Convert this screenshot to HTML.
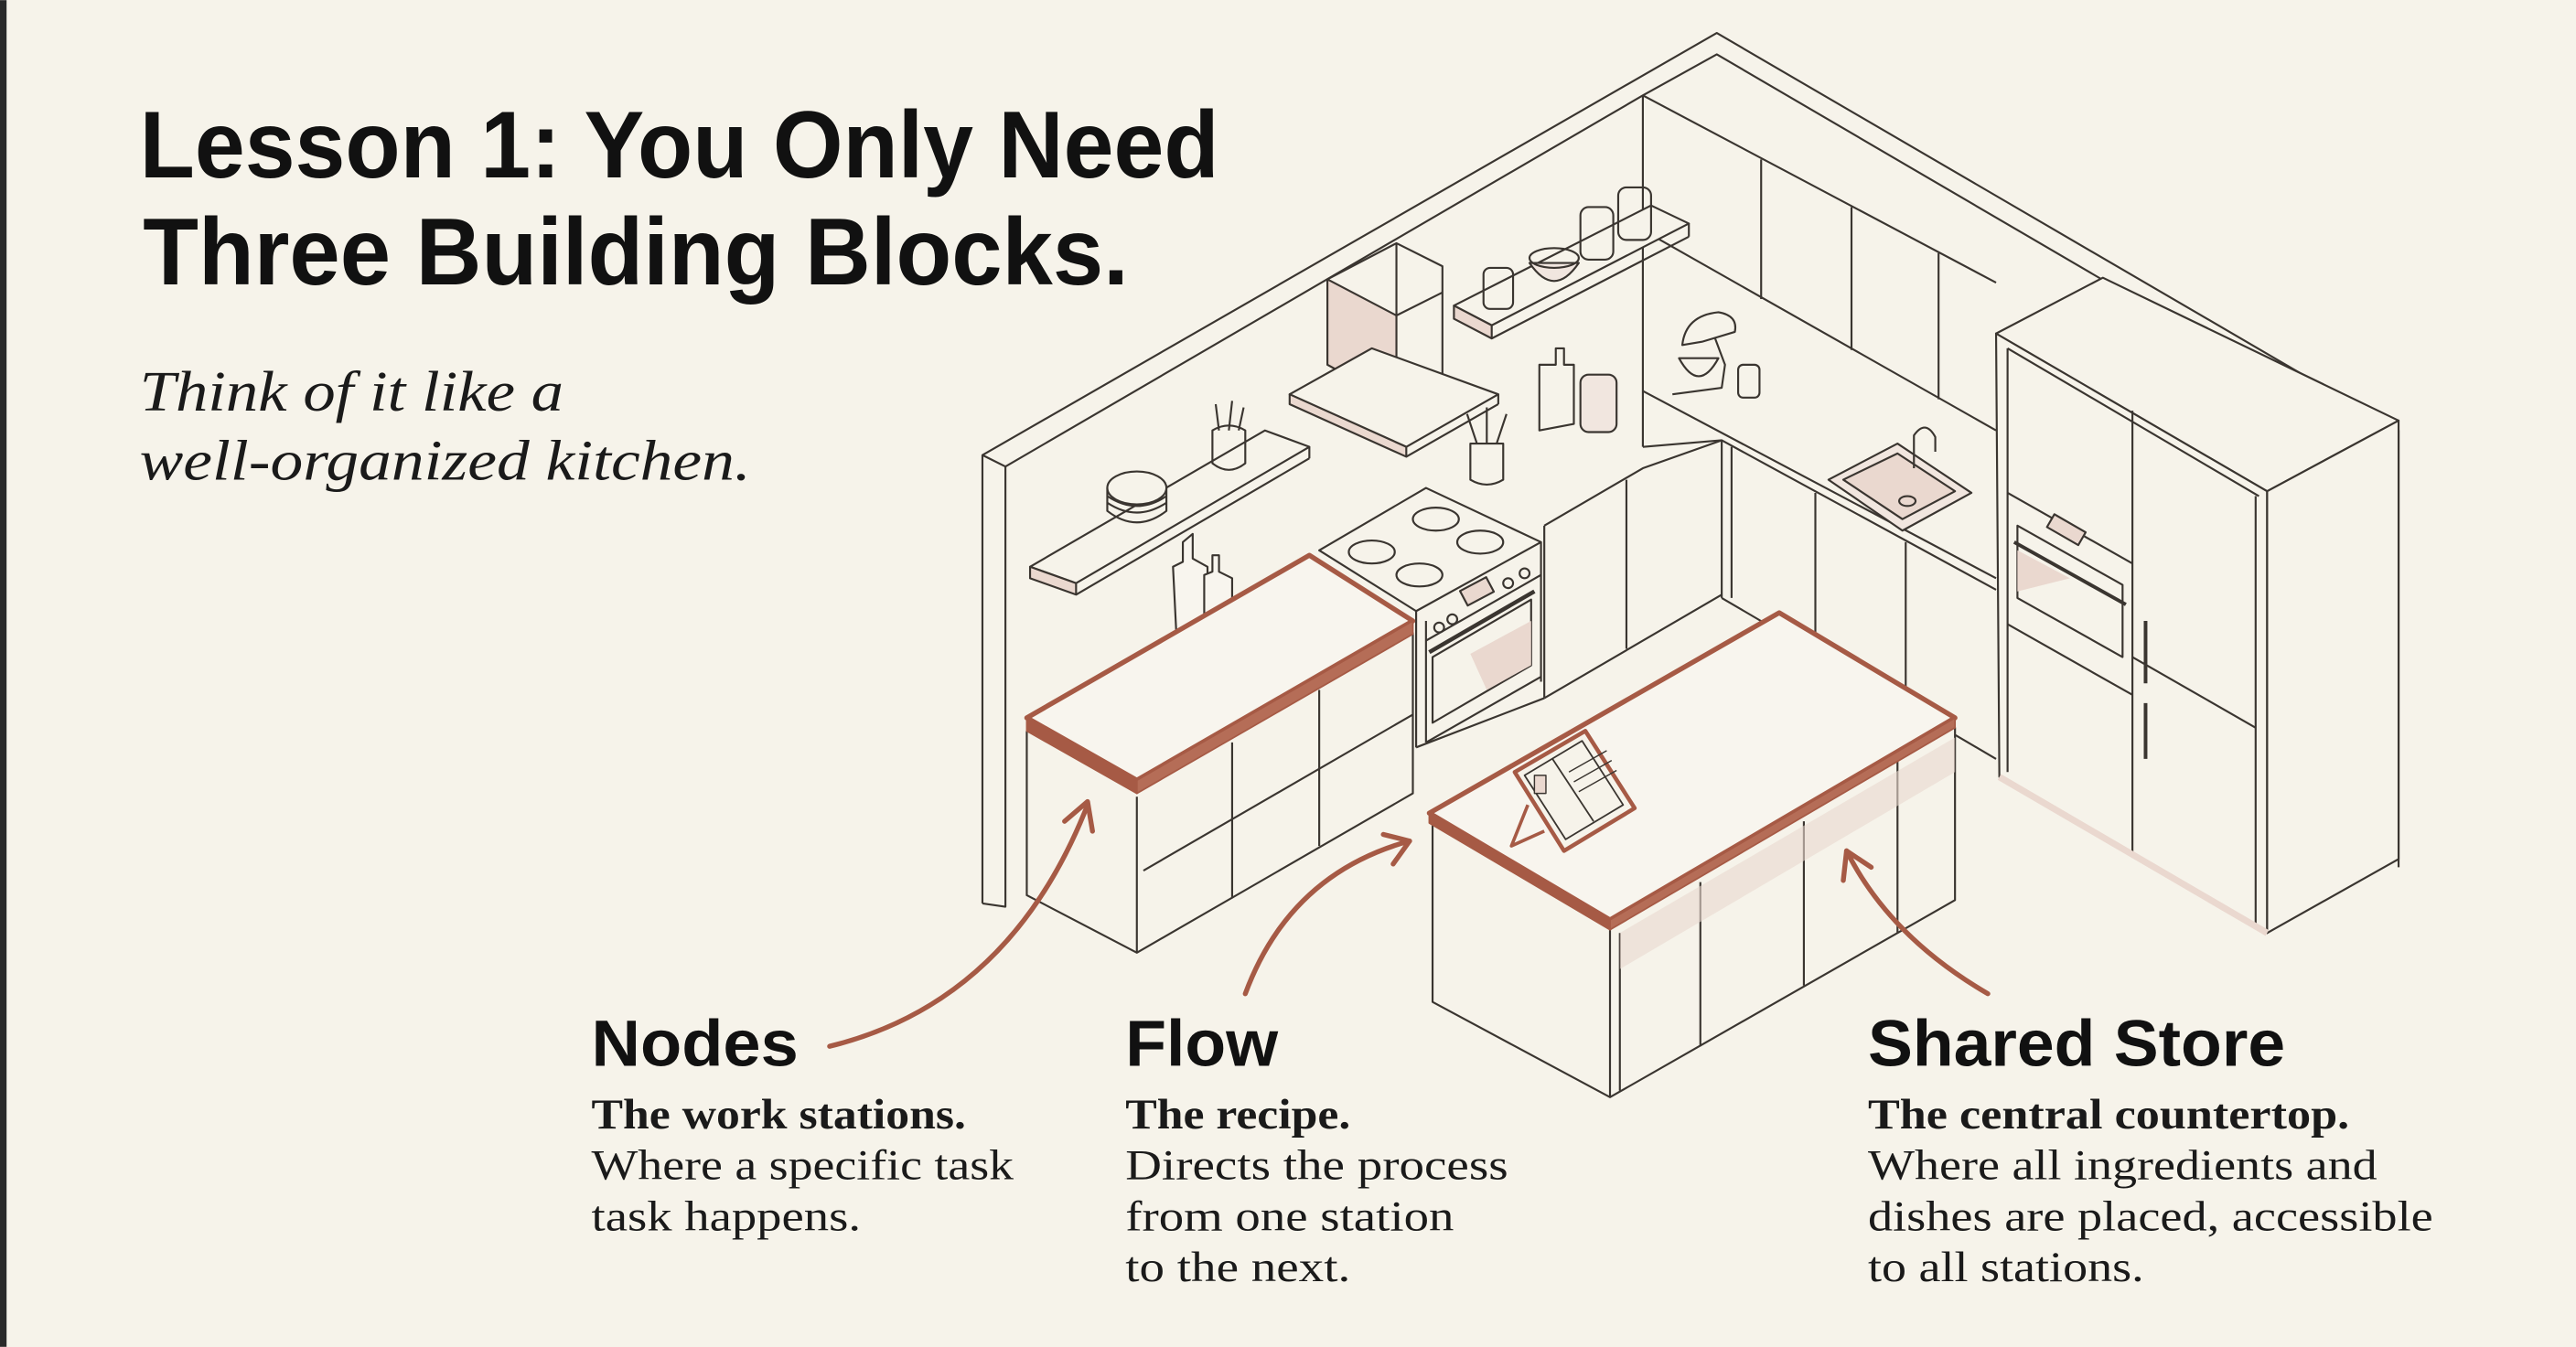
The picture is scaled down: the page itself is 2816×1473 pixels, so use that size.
<!DOCTYPE html>
<html><head><meta charset="utf-8"><style>
html,body{margin:0;padding:0;background:#f6f3ea;}
svg{display:block;}
</style></head><body>
<svg width="2816" height="1473" viewBox="0 0 1568 820" xmlns="http://www.w3.org/2000/svg">
<rect x="0" y="0" width="1568" height="820" fill="#f6f3ea"/>
<rect x="0" y="0" width="4" height="820" fill="#2a2a2a"/>

<!-- TEXT -->
<g font-family="Liberation Sans, sans-serif" font-weight="bold" fill="#111">
<text x="85" y="108" font-size="58" textLength="657" lengthAdjust="spacingAndGlyphs">Lesson 1: You Only Need</text>
<text x="87" y="173" font-size="58" textLength="600" lengthAdjust="spacingAndGlyphs">Three Building Blocks.</text>
<text x="360" y="649" font-size="40" textLength="126" lengthAdjust="spacingAndGlyphs">Nodes</text>
<text x="685" y="649" font-size="40" textLength="93" lengthAdjust="spacingAndGlyphs">Flow</text>
<text x="1137" y="649" font-size="40" textLength="254" lengthAdjust="spacingAndGlyphs">Shared Store</text>
</g>
<g font-family="Liberation Serif, serif" font-style="italic" fill="#1a1a1a" font-size="35">
<text x="85" y="250" textLength="258" lengthAdjust="spacingAndGlyphs">Think of it like a</text>
<text x="85" y="292" textLength="372" lengthAdjust="spacingAndGlyphs">well-organized kitchen.</text>
</g>
<g font-family="Liberation Serif, serif" fill="#1a1a1a" font-size="26">
<text x="360" y="687" font-weight="bold" textLength="228" lengthAdjust="spacingAndGlyphs">The work stations.</text>
<text x="360" y="718" textLength="257" lengthAdjust="spacingAndGlyphs">Where a specific task</text>
<text x="360" y="749" textLength="164" lengthAdjust="spacingAndGlyphs">task happens.</text>
<text x="685" y="687" font-weight="bold" textLength="137" lengthAdjust="spacingAndGlyphs">The recipe.</text>
<text x="685" y="718" textLength="233" lengthAdjust="spacingAndGlyphs">Directs the process</text>
<text x="685" y="749" textLength="200" lengthAdjust="spacingAndGlyphs">from one station</text>
<text x="685" y="780" textLength="137" lengthAdjust="spacingAndGlyphs">to the next.</text>
<text x="1137" y="687" font-weight="bold" textLength="293" lengthAdjust="spacingAndGlyphs">The central countertop.</text>
<text x="1137" y="718" textLength="310" lengthAdjust="spacingAndGlyphs">Where all ingredients and</text>
<text x="1137" y="749" textLength="344" lengthAdjust="spacingAndGlyphs">dishes are placed, accessible</text>
<text x="1137" y="780" textLength="168" lengthAdjust="spacingAndGlyphs">to all stations.</text>
</g>

<!-- KITCHEN -->
<g fill="none" stroke="#3a3530" stroke-width="1.2" stroke-linejoin="round">
<polyline points="598,550 598,277 1045,20 1460,262 1460,528"/>
<polyline points="598,277 612,284 612,552 598,550"/>
<polyline points="612,284 1000,58 1045,33 1447,268 1447,528"/>
<line x1="1000" y1="58" x2="1000" y2="272"/>
<line x1="1000" y1="58" x2="1215" y2="172"/>
<line x1="1000" y1="140" x2="1215" y2="262"/>
<line x1="1072" y1="97" x2="1072" y2="182"/>
<line x1="1127" y1="126" x2="1127" y2="213"/>
<line x1="1180" y1="154" x2="1180" y2="243"/>
<line x1="1000" y1="238" x2="1215" y2="352"/>
<polyline points="1000,272 1048,268 1215,359"/>
<line x1="1048" y1="268" x2="1048" y2="364"/>
<line x1="1054" y1="272" x2="1054" y2="364"/>
<polyline points="1048,364 1215,462"/>
<line x1="1105" y1="300" x2="1105" y2="397"/>
<line x1="1160" y1="330" x2="1160" y2="430"/>
<polygon points="1113,292 1155,270 1200,300 1158,323" fill="#f1e6df"/>
<polygon points="1122,292 1155,276 1190,299 1158,316" fill="#ead8cf"/>
<ellipse cx="1161" cy="305" rx="5" ry="3"/>
<path d="M1165,285 L1165,265 Q1172,255 1178,266 L1178,275"/>
<polyline points="940,320 1000,285 1048,268"/>
<line x1="940" y1="425" x2="1048" y2="362"/>
<line x1="990" y1="292" x2="990" y2="395"/>
<line x1="940" y1="320" x2="940" y2="425"/>
<polygon points="627,345 770,262 797,272 655,355" fill="#f6f3ea"/>
<polygon points="627,345 655,355 655,362 627,352" fill="#ead8cf"/>
<line x1="655" y1="362" x2="797" y2="279"/><line x1="797" y1="272" x2="797" y2="279"/>
<ellipse cx="692" cy="297" rx="18" ry="10" fill="#f6f3ea"/>
<path d="M674,297 L674,311 Q692,325 710,311 L710,297"/>
<path d="M674,302 Q692,314 710,302 M674,306 Q692,318 710,306"/>
<path d="M738,262 L738,282 Q748,290 758,282 L758,262 Q748,256 738,262 Z"/>
<path d="M742,262 L740,246 M748,262 L750,244 M754,262 L757,248"/>
<polygon points="808,170 850,148 878,162 878,232 850,245 808,222" fill="#f6f3ea"/>
<polygon points="808,170 850,192 850,245 808,222" fill="#ead8cf"/>
<line x1="850" y1="192" x2="878" y2="178"/><line x1="850" y1="148" x2="850" y2="192"/>
<polygon points="785,240 835,212 912,240 856,272" fill="#f6f3ea"/>
<polygon points="785,240 856,272 856,278 785,246" fill="#ead8cf"/>
<line x1="856" y1="278" x2="912" y2="246"/><line x1="912" y1="240" x2="912" y2="246"/>
<polygon points="885,186 1005,125 1028,136 908,198" fill="#f6f3ea"/>
<polygon points="885,186 908,198 908,206 885,194" fill="#ead8cf"/>
<line x1="908" y1="206" x2="1028" y2="144"/><line x1="1028" y1="136" x2="1028" y2="144"/>
<rect x="903" y="163" width="18" height="25" rx="4"/>
<path d="M931,160 Q946,182 961,160 Z" fill="#f1e6df"/><ellipse cx="946" cy="157" rx="15" ry="6"/>
<rect x="962" y="126" width="20" height="32" rx="5"/>
<rect x="985" y="114" width="20" height="32" rx="5"/>
<path d="M1024,210 Q1026,192 1046,190 Q1058,192 1056,202 L1036,208 Z"/>
<path d="M1022,218 Q1034,240 1046,218 Z"/>
<path d="M1018,240 L1048,236 L1050,222 L1044,206"/>
<rect x="1058" y="222" width="13" height="20" rx="3"/>
<path d="M937,262 L937,222 L947,222 L947,212 L952,212 L952,222 L958,222 L958,258 Z"/>
<rect x="962" y="228" width="22" height="35" rx="5" fill="#f1e6df"/>
<path d="M895,270 L895,292 Q905,298 915,292 L915,270 Z"/>
<path d="M899,270 L893,252 M905,270 L905,248 M911,270 L917,252"/>
<polygon points="803,335 868,297 938,330 862,372" fill="#f6f3ea"/>
<ellipse cx="835" cy="336" rx="14" ry="7"/><ellipse cx="874" cy="316" rx="14" ry="7"/>
<ellipse cx="864" cy="350" rx="14" ry="7"/><ellipse cx="901" cy="330" rx="14" ry="7"/>
<line x1="862" y1="372" x2="862" y2="455"/><line x1="938" y1="330" x2="938" y2="415"/>
<line x1="868" y1="378" x2="868" y2="452"/>
<line x1="868" y1="390" x2="938" y2="350"/>
<line x1="868" y1="452" x2="938" y2="412"/>
<polygon points="872,400 932,365 932,405 872,440" />
<polygon points="895,398 932,378 932,405 905,420" fill="#ead8cf" stroke="none"/>
<line x1="870" y1="397" x2="934" y2="360" stroke-width="2.5"/>
<rect x="890" y="355" width="18" height="10" fill="#ead8cf" transform="rotate(-28 899 360)"/>
<circle cx="876" cy="382" r="3"/><circle cx="884" cy="377" r="3"/><circle cx="918" cy="355" r="3"/><circle cx="928" cy="349" r="3"/>
<line x1="862" y1="455" x2="940" y2="425"/>
<polyline points="625,445 625,545 692,580 860,483 860,385"/>
<line x1="692" y1="485" x2="692" y2="580"/>
<line x1="750" y1="452" x2="750" y2="547"/>
<line x1="803" y1="420" x2="803" y2="515"/>
<line x1="696" y1="530" x2="860" y2="435"/>
<polygon points="663,432 722,398 758,418 700,452" fill="#f8f5ee"/>
<line x1="700" y1="452" x2="700" y2="456"/><line x1="663" y1="432" x2="663" y2="436"/><polyline points="663,436 700,456 758,422 758,418"/>
<path d="M692,425 L722,414 L748,417 L746,421 L720,420 Z"/>
<ellipse cx="690" cy="436" rx="6" ry="4"/><ellipse cx="698" cy="437" rx="6" ry="4"/>
<path d="M742,388 L768,408 L780,414 L777,417 L765,410 Z"/>
<path d="M716,385 L714,345 L720,342 L720,330 L726,325 L726,340 L735,345 L735,378 Z" fill="#f8f5ee"/>
<path d="M733,380 L733,350 L738,348 L738,338 L742,338 L742,348 L750,352 L750,372 Z" fill="#f8f5ee"/>
<circle cx="774" cy="372" r="8"/><path d="M774,364 L774,359"/>
<circle cx="765" cy="384" r="5" fill="#ead8cf"/>
<path d="M766,388 Q784,372 806,378 Q790,382 778,392 Z"/>
<polygon points="872,502 872,610 980,668 1190,548 1190,443" fill="#f6f3ea"/>
<line x1="980" y1="566" x2="980" y2="668"/>
<line x1="986" y1="568" x2="986" y2="664"/>
<line x1="1035" y1="537" x2="1035" y2="637"/>
<line x1="1098" y1="500" x2="1098" y2="600"/>
<line x1="1155" y1="462" x2="1155" y2="568"/>
<polygon points="986,568 1190,449 1190,470 986,590" fill="#ead8cf" stroke="none" opacity="0.6"/>
<rect x="1048" y="412" width="13" height="30" rx="4"/>
<path d="M1075,420 Q1090,442 1106,420 Z" fill="#f1e6df"/><ellipse cx="1090" cy="418" rx="16" ry="7"/>
<rect x="1063" y="436" width="18" height="18" rx="5"/>
<polygon points="1215,203 1280,169 1460,256 1380,299" fill="#f6f3ea"/>
<polygon points="1215,203 1380,299 1380,568 1217,473" fill="#f6f3ea"/>
<polygon points="1380,299 1460,256 1460,523 1380,568" fill="#f6f3ea"/>
<polyline points="1222,212 1375,302"/>
<line x1="1222" y1="212" x2="1222" y2="470"/>
<line x1="1298" y1="250" x2="1298" y2="520"/>
<line x1="1373" y1="302" x2="1373" y2="565"/>
<polyline points="1222,300 1298,343"/>
<polyline points="1222,380 1298,423"/>
<polyline points="1298,400 1373,443"/>
<polygon points="1228,320 1292,356 1292,400 1228,364"/>
<polygon points="1228,335 1260,352 1228,360" fill="#ead8cf" stroke="none"/>
<rect x="1247" y="318" width="22" height="9" transform="rotate(30 1258 322)" fill="#ead8cf"/>
<line x1="1226" y1="330" x2="1294" y2="368" stroke-width="2.2"/>
<line x1="1306" y1="378" x2="1306" y2="416" stroke-width="2.2"/>
<line x1="1306" y1="428" x2="1306" y2="462" stroke-width="2.2"/>
<line x1="1217" y1="473" x2="1380" y2="568" stroke="#ead8cf" stroke-width="4"/>
</g>

<g fill="none" stroke="#a65a45" stroke-linejoin="round">
<polygon points="625,437 797,338 860,378 692,475" stroke-width="3" fill="#f8f5ee"/>
<polygon points="625,437 692,475 692,483 625,445" fill="#a65a45" stroke-width="1"/>
<polygon points="692,475 860,378 860,386 692,483" fill="#b56d57" stroke-width="1"/>
<polygon points="870,495 1083,373 1190,437 980,560" stroke-width="3" fill="#f8f5ee"/>
<polygon points="870,495 980,560 980,566 870,501" fill="#a65a45" stroke-width="1"/>
<polygon points="980,560 1190,437 1190,443 980,566" fill="#b56d57" stroke-width="1"/>
<!-- tablet on stand -->
<polygon points="922,470 965,445 995,492 952,518" stroke-width="2.5" fill="#f6f3ea"/>
<polygon points="928,472 963,451 988,490 953,511" stroke="#3a3530" stroke-width="1"/>
<line x1="945" y1="462" x2="970" y2="500" stroke="#3a3530" stroke-width="1"/>
<rect x="934" y="472" width="7" height="11" fill="#ead8cf" stroke="#3a3530" stroke-width="0.8"/>
<path d="M955,470 L978,457 M958,476 L981,463 M961,482 L984,469" stroke="#3a3530" stroke-width="0.8"/>
<path d="M930,490 L920,515 L940,506" stroke-width="2"/>
</g>

<g fill="none" stroke="#a65a45" stroke-width="3" stroke-linecap="round" stroke-linejoin="round">
<path d="M505,637 Q615,610 662,490"/>
<polyline points="648,500 662,488 665,506"/>
<path d="M758,605 Q785,532 858,512"/>
<polyline points="842,508 858,512 848,526"/>
<path d="M1210,605 Q1150,570 1124,518"/>
<polyline points="1122,536 1124,518 1139,528"/>
</g>
</svg>
</body></html>
